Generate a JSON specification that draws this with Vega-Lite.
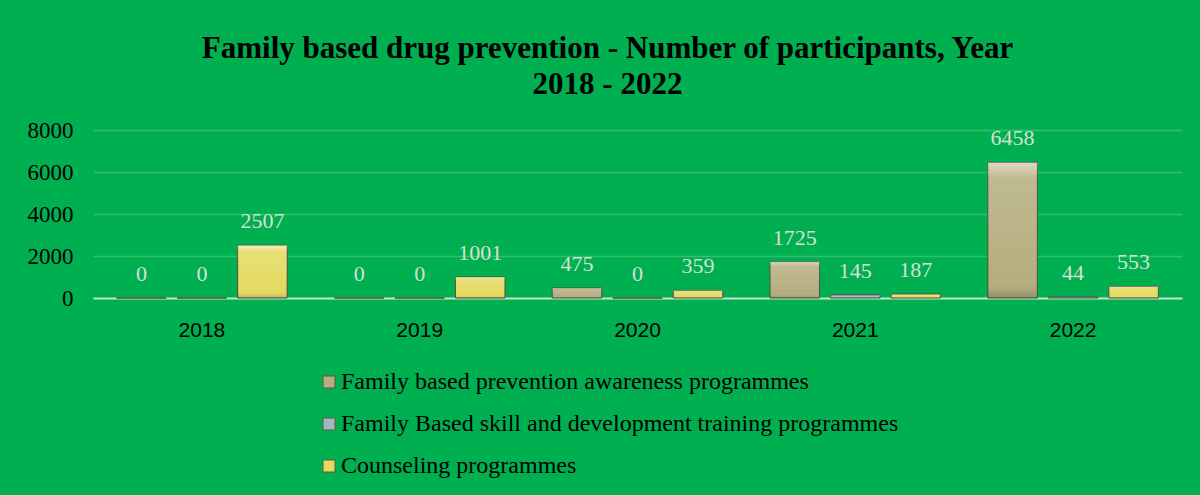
{
  "$schema": "https://vega.github.io/schema/vega-lite/v6.json",
  "autosize": {"type": "none"},
  "width": 1089,
  "height": 168,
  "padding": {"left": 93, "top": 130, "right": 18, "bottom": 197},
  "background": "#00AF50",
  "config": {"view": {"stroke": null}},
  "title": {
    "text": ["Family based drug prevention - Number of participants, Year", "2018 - 2022"],
    "font": "Liberation Serif",
    "fontSize": 31,
    "fontWeight": "bold",
    "color": "#000000",
    "anchor": "middle",
    "dx": -30,
    "offset": 18,
    "lineHeight": 36
  },
  "data": {
    "values": [
      {"year": "2018", "series": "Family based prevention awareness programmes", "value": 0},
      {"year": "2018", "series": "Family Based skill and development training programmes", "value": 0},
      {"year": "2018", "series": "Counseling programmes", "value": 2507},
      {"year": "2019", "series": "Family based prevention awareness programmes", "value": 0},
      {"year": "2019", "series": "Family Based skill and development training programmes", "value": 0},
      {"year": "2019", "series": "Counseling programmes", "value": 1001},
      {"year": "2020", "series": "Family based prevention awareness programmes", "value": 475},
      {"year": "2020", "series": "Family Based skill and development training programmes", "value": 0},
      {"year": "2020", "series": "Counseling programmes", "value": 359},
      {"year": "2021", "series": "Family based prevention awareness programmes", "value": 1725},
      {"year": "2021", "series": "Family Based skill and development training programmes", "value": 145},
      {"year": "2021", "series": "Counseling programmes", "value": 187},
      {"year": "2022", "series": "Family based prevention awareness programmes", "value": 6458},
      {"year": "2022", "series": "Family Based skill and development training programmes", "value": 44},
      {"year": "2022", "series": "Counseling programmes", "value": 553}
    ]
  },
  "encoding": {
    "x": {
      "field": "year", "type": "nominal",
      "scale": {"paddingInner": 0.217, "paddingOuter": 0.1085},
      "axis": {
        "title": null, "labelAngle": 0, "labelFont": "Liberation Sans", "labelFontSize": 21,
        "labelColor": "#000000", "labelPadding": 21, "ticks": false,
        "domain": true, "domainColor": "#BFE6CB", "domainWidth": 2, "grid": false
      }
    },
    "xOffset": {
      "field": "series", "type": "nominal",
      "sort": ["Family based prevention awareness programmes", "Family Based skill and development training programmes", "Counseling programmes"],
      "scale": {"paddingInner": 0.182, "paddingOuter": 0}
    },
    "y": {
      "field": "value", "type": "quantitative",
      "scale": {"domain": [0, 8000], "nice": false},
      "axis": {
        "title": null, "values": [0, 2000, 4000, 6000, 8000], "format": "d", "labelFont": "Liberation Serif",
        "labelFontSize": 23, "labelColor": "#000000", "labelPadding": 20, "ticks": false,
        "domain": false, "grid": true, "gridColor": "#33C06E", "gridWidth": 1.5
      }
    }
  },
  "layer": [
    {
      "mark": {"type": "bar", "stroke": "#4d4d3a", "strokeWidth": 1},
      "encoding": {
        "color": {
          "field": "series", "type": "nominal",
          "sort": ["Family based prevention awareness programmes", "Family Based skill and development training programmes", "Counseling programmes"],
          "scale": {
            "domain": ["Family based prevention awareness programmes", "Family Based skill and development training programmes", "Counseling programmes"],
            "range": ["#B5AE7E", "#A3B7C2", "#E4DA60"]
          },
          "legend": {
            "title": null, "orient": "none", "legendX": 224, "legendY": 240,
            "direction": "vertical", "symbolType": "square", "symbolSize": 144,
            "symbolStrokeColor": "#5a5a40", "symbolStrokeWidth": 1,
            "labelFont": "Liberation Serif", "labelFontSize": 24, "labelColor": "#000000",
            "labelOffset": 0, "rowPadding": 18, "labelLimit": 800
          }
        }
      }
    },
    {
      "mark": {
        "type": "bar",
        "strokeWidth": 0,
        "fill": {
          "gradient": "linear", "x1": 0, "y1": 0, "x2": 0, "y2": 1,
          "stops": [
            {"offset": 0, "color": "rgba(255,255,255,0.55)"},
            {"offset": 0.12, "color": "rgba(255,255,255,0.15)"},
            {"offset": 0.85, "color": "rgba(255,255,255,0)"},
            {"offset": 1, "color": "rgba(0,0,0,0.2)"}
          ]
        }
      },
      "encoding": {}
    },
    {
      "mark": {"type": "text", "baseline": "bottom", "dy": -12, "font": "Liberation Serif", "fontSize": 22, "color": "#D6E0D6"},
      "encoding": {"text": {"field": "value", "type": "quantitative", "format": "d"}}
    }
  ]
}
